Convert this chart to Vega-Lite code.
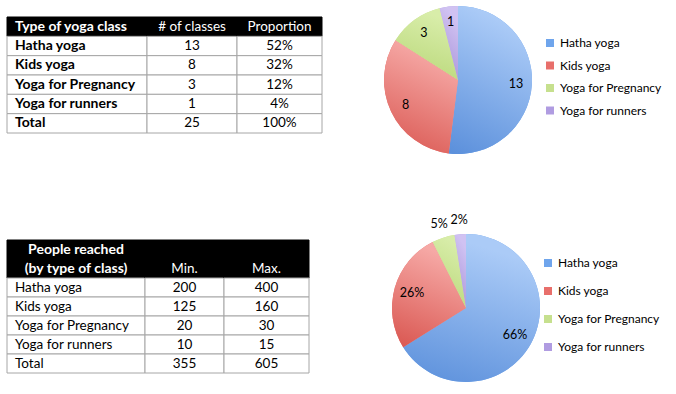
{
  "$schema": "https://vega.github.io/schema/vega-lite/v6.json",
  "background": "white",
  "padding": {"left": 6, "top": 0, "right": 0, "bottom": 0},
  "config": {"view": {"stroke": null}, "text": {"font": "Lato"}},
  "datasets": {
    "table1": [
      {"row": "head", "c1": "Type of yoga class", "c2": "# of classes", "c3": "Proportion"},
      {"row": "r1", "c1": "Hatha yoga", "c2": "13", "c3": "52%"},
      {"row": "r2", "c1": "Kids yoga", "c2": "8", "c3": "32%"},
      {"row": "r3", "c1": "Yoga for Pregnancy", "c2": "3", "c3": "12%"},
      {"row": "r4", "c1": "Yoga for runners", "c2": "1", "c3": "4%"},
      {"row": "total", "c1": "Total", "c2": "25", "c3": "100%"}
    ],
    "table2": [
      {"row": "head1", "c1": "People reached", "c2": "", "c3": ""},
      {"row": "head2", "c1": "(by type of class)", "c2": "Min.", "c3": "Max."},
      {"row": "r1", "c1": "Hatha yoga", "c2": "200", "c3": "400"},
      {"row": "r2", "c1": "Kids yoga", "c2": "125", "c3": "160"},
      {"row": "r3", "c1": "Yoga for Pregnancy", "c2": "20", "c3": "30"},
      {"row": "r4", "c1": "Yoga for runners", "c2": "10", "c3": "15"},
      {"row": "total", "c1": "Total", "c2": "355", "c3": "605"}
    ],
    "pie1": [
      {"type": "Hatha yoga", "v": 13},
      {"type": "Kids yoga", "v": 8},
      {"type": "Yoga for Pregnancy", "v": 3},
      {"type": "Yoga for runners", "v": 1}
    ],
    "pie2": [
      {"type": "Hatha yoga", "v": 400, "label": "66%"},
      {"type": "Kids yoga", "v": 160, "label": "26%"},
      {"type": "Yoga for Pregnancy", "v": 30, "label": "5%"},
      {"type": "Yoga for runners", "v": 15, "label": "2%"}
    ]
  },
  "vconcat": [
    {
      "hconcat": [
        {
          "hconcat": [
            {
              "width": 140, "height": 160,
              "data": {"name": "table1"},
              "encoding": {"y": {"field": "row", "type": "nominal", "axis": null, "scale": {"domain": ["head", "r1", "r2", "r3", "r4", "total"], "range": [17, 133], "paddingInner": 0, "paddingOuter": 0}}},
              "layer": [
                {"mark": {"type": "rect", "strokeWidth": 1}, "encoding": {
                  "fill": {"condition": {"test": "datum.row === 'head'", "value": "#000000"}, "value": "#ffffff"},
                  "stroke": {"condition": {"test": "datum.row === 'head'", "value": "#000000"}, "value": "#a6a6a6"}}},
                {"mark": {"type": "text", "align": "left", "dx": 8, "baseline": "middle", "font": "Lato", "fontSize": 14, "fontWeight": "bold"}, "encoding": {
                  "x": {"datum": 0, "type": "quantitative", "scale": {"domain": [0, 1]}, "axis": null},
                  "text": {"field": "c1", "type": "nominal"},
                  "color": {"condition": {"test": "datum.row === 'head'", "value": "#ffffff"}, "value": "#000000"}}}
              ]
            },
            {
              "width": 90, "height": 160,
              "data": {"name": "table1"},
              "encoding": {"y": {"field": "row", "type": "nominal", "axis": null, "scale": {"domain": ["head", "r1", "r2", "r3", "r4", "total"], "range": [17, 133], "paddingInner": 0, "paddingOuter": 0}}},
              "layer": [
                {"mark": {"type": "rect", "strokeWidth": 1}, "encoding": {
                  "fill": {"condition": {"test": "datum.row === 'head'", "value": "#000000"}, "value": "#ffffff"},
                  "stroke": {"condition": {"test": "datum.row === 'head'", "value": "#000000"}, "value": "#a6a6a6"}}},
                {"mark": {"type": "text", "baseline": "middle", "font": "Lato", "fontSize": 13.5}, "encoding": {
                  "text": {"field": "c2", "type": "nominal"},
                  "fontWeight": {"condition": {"test": "datum.row === 'head'", "value": "bold"}, "value": "normal"},
                  "color": {"condition": {"test": "datum.row === 'head'", "value": "#ffffff"}, "value": "#000000"}}}
              ]
            },
            {
              "width": 85, "height": 160,
              "data": {"name": "table1"},
              "encoding": {"y": {"field": "row", "type": "nominal", "axis": null, "scale": {"domain": ["head", "r1", "r2", "r3", "r4", "total"], "range": [17, 133], "paddingInner": 0, "paddingOuter": 0}}},
              "layer": [
                {"mark": {"type": "rect", "strokeWidth": 1}, "encoding": {
                  "fill": {"condition": {"test": "datum.row === 'head'", "value": "#000000"}, "value": "#ffffff"},
                  "stroke": {"condition": {"test": "datum.row === 'head'", "value": "#000000"}, "value": "#a6a6a6"}}},
                {"mark": {"type": "text", "baseline": "middle", "font": "Lato", "fontSize": 13.5}, "encoding": {
                  "text": {"field": "c3", "type": "nominal"},
                  "fontWeight": {"condition": {"test": "datum.row === 'head'", "value": "bold"}, "value": "normal"},
                  "color": {"condition": {"test": "datum.row === 'head'", "value": "#ffffff"}, "value": "#000000"}}}
              ]
            }
          ],
          "spacing": 0,
          "bounds": "flush"
        },
        {
          "width": 148, "height": 160,
          "data": {"name": "pie1"},
          "encoding": {
            "theta": {"field": "v", "type": "quantitative", "stack": true},
            "order": {"field": "type", "type": "ordinal", "sort": "ascending"}
          },
          "layer": [
            {"mark": {"type": "arc", "outerRadius": 74}, "encoding": {
              "color": {"field": "type", "type": "nominal",
                "scale": {"domain": ["Hatha yoga", "Kids yoga", "Yoga for Pregnancy", "Yoga for runners"], "range": ["#6fa5ec", "#e86f6b", "#c6e08e", "#b09ce1"]},
                "legend": {"orient": "none", "legendX": 160, "legendY": 37, "title": null, "padding": 0, "symbolType": "square", "symbolSize": 64, "symbolStrokeWidth": 0, "labelFont": "Lato", "labelFontSize": 12, "labelColor": "#000000", "rowPadding": 10.5, "labelOffset": 4}}}},
            {"mark": {"type": "arc", "outerRadius": 74}, "encoding": {
              "detail": {"field": "type", "type": "nominal"},
              "fill": {"condition": [
                {"test": "datum.type === 'Hatha yoga'", "value": {"gradient": "linear", "x1": 0.3, "y1": 0, "x2": 0, "y2": 1, "stops": [{"offset": 0, "color": "#abcbf7"}, {"offset": 1, "color": "#5a8fdb"}]}},
                {"test": "datum.type === 'Kids yoga'", "value": {"gradient": "linear", "x1": 0.3, "y1": 0, "x2": 0, "y2": 1, "stops": [{"offset": 0, "color": "#f6a9a6"}, {"offset": 1, "color": "#d9554f"}]}},
                {"test": "datum.type === 'Yoga for Pregnancy'", "value": {"gradient": "linear", "x1": 0.3, "y1": 0, "x2": 0, "y2": 1, "stops": [{"offset": 0, "color": "#d8eda9"}, {"offset": 1, "color": "#b7d676"}]}}
              ], "value": {"gradient": "linear", "x1": 0.3, "y1": 0, "x2": 0, "y2": 1, "stops": [{"offset": 0, "color": "#d0c2f2"}, {"offset": 1, "color": "#a48ed6"}]}}}},
            {"mark": {"type": "text", "radius": 58, "font": "Lato", "fontSize": 12.5, "color": "#000000"}, "encoding": {
              "detail": {"field": "type", "type": "nominal"},
              "text": {"field": "v", "type": "quantitative"}}}
          ]
        }
      ],
      "spacing": 61,
      "resolve": {"scale": {"color": "independent"}, "legend": {"color": "independent"}}
    },
    {
      "hconcat": [
        {
          "hconcat": [
            {
              "width": 138, "height": 150,
              "data": {"name": "table2"},
              "encoding": {"y": {"field": "row", "type": "nominal", "axis": null, "scale": {"domain": ["head1", "head2", "r1", "r2", "r3", "r4", "total"], "range": [7, 140], "paddingInner": 0, "paddingOuter": 0}}},
              "layer": [
                {"mark": {"type": "rect", "strokeWidth": 1}, "encoding": {
                  "fill": {"condition": {"test": "datum.row === 'head1' || datum.row === 'head2'", "value": "#000000"}, "value": "#ffffff"},
                  "stroke": {"condition": {"test": "datum.row === 'head1' || datum.row === 'head2'", "value": "#000000"}, "value": "#a6a6a6"}}},
                {"transform": [{"filter": "datum.row === 'head1' || datum.row === 'head2'"}],
                 "mark": {"type": "text", "baseline": "middle", "font": "Lato", "fontSize": 14, "fontWeight": "bold", "color": "#ffffff"}, "encoding": {
                  "text": {"field": "c1", "type": "nominal"}}},
                {"transform": [{"filter": "datum.row !== 'head1' && datum.row !== 'head2'"}],
                 "mark": {"type": "text", "align": "left", "dx": 8, "baseline": "middle", "font": "Lato", "fontSize": 13.5, "color": "#000000"}, "encoding": {
                  "x": {"datum": 0, "type": "quantitative", "scale": {"domain": [0, 1]}, "axis": null},
                  "text": {"field": "c1", "type": "nominal"}}}
              ]
            },
            {
              "width": 79, "height": 150,
              "data": {"name": "table2"},
              "encoding": {"y": {"field": "row", "type": "nominal", "axis": null, "scale": {"domain": ["head1", "head2", "r1", "r2", "r3", "r4", "total"], "range": [7, 140], "paddingInner": 0, "paddingOuter": 0}}},
              "layer": [
                {"mark": {"type": "rect", "strokeWidth": 1}, "encoding": {
                  "fill": {"condition": {"test": "datum.row === 'head1' || datum.row === 'head2'", "value": "#000000"}, "value": "#ffffff"},
                  "stroke": {"condition": {"test": "datum.row === 'head1' || datum.row === 'head2'", "value": "#000000"}, "value": "#a6a6a6"}}},
                {"mark": {"type": "text", "baseline": "middle", "font": "Lato", "fontSize": 13.5}, "encoding": {
                  "text": {"field": "c2", "type": "nominal"},
                  "fontWeight": {"condition": {"test": "datum.row === 'total'", "value": "bold"}, "value": "normal"},
                  "color": {"condition": {"test": "datum.row === 'head1' || datum.row === 'head2'", "value": "#ffffff"}, "value": "#000000"}}}
              ]
            },
            {
              "width": 85, "height": 150,
              "data": {"name": "table2"},
              "encoding": {"y": {"field": "row", "type": "nominal", "axis": null, "scale": {"domain": ["head1", "head2", "r1", "r2", "r3", "r4", "total"], "range": [7, 140], "paddingInner": 0, "paddingOuter": 0}}},
              "layer": [
                {"mark": {"type": "rect", "strokeWidth": 1}, "encoding": {
                  "fill": {"condition": {"test": "datum.row === 'head1' || datum.row === 'head2'", "value": "#000000"}, "value": "#ffffff"},
                  "stroke": {"condition": {"test": "datum.row === 'head1' || datum.row === 'head2'", "value": "#000000"}, "value": "#a6a6a6"}}},
                {"mark": {"type": "text", "baseline": "middle", "font": "Lato", "fontSize": 13.5}, "encoding": {
                  "text": {"field": "c3", "type": "nominal"},
                  "fontWeight": {"condition": {"test": "datum.row === 'total'", "value": "bold"}, "value": "normal"},
                  "color": {"condition": {"test": "datum.row === 'head1' || datum.row === 'head2'", "value": "#ffffff"}, "value": "#000000"}}}
              ]
            }
          ],
          "spacing": 0,
          "bounds": "flush"
        },
        {
          "width": 148, "height": 150,
          "data": {"name": "pie2"},
          "encoding": {
            "theta": {"field": "v", "type": "quantitative", "stack": true},
            "order": {"field": "type", "type": "ordinal", "sort": "ascending"}
          },
          "layer": [
            {"mark": {"type": "arc", "outerRadius": 74}, "encoding": {
              "color": {"field": "type", "type": "nominal",
                "scale": {"domain": ["Hatha yoga", "Kids yoga", "Yoga for Pregnancy", "Yoga for runners"], "range": ["#6fa5ec", "#e86f6b", "#c6e08e", "#b09ce1"]},
                "legend": {"orient": "none", "legendX": 150, "legendY": 24, "title": null, "padding": 0, "symbolType": "square", "symbolSize": 64, "symbolStrokeWidth": 0, "labelFont": "Lato", "labelFontSize": 12, "labelColor": "#000000", "rowPadding": 16, "labelOffset": 4}}}},
            {"mark": {"type": "arc", "outerRadius": 74}, "encoding": {
              "detail": {"field": "type", "type": "nominal"},
              "fill": {"condition": [
                {"test": "datum.type === 'Hatha yoga'", "value": {"gradient": "linear", "x1": 0.3, "y1": 0, "x2": 0, "y2": 1, "stops": [{"offset": 0, "color": "#abcbf7"}, {"offset": 1, "color": "#5a8fdb"}]}},
                {"test": "datum.type === 'Kids yoga'", "value": {"gradient": "linear", "x1": 0.3, "y1": 0, "x2": 0, "y2": 1, "stops": [{"offset": 0, "color": "#f6a9a6"}, {"offset": 1, "color": "#d9554f"}]}},
                {"test": "datum.type === 'Yoga for Pregnancy'", "value": {"gradient": "linear", "x1": 0.3, "y1": 0, "x2": 0, "y2": 1, "stops": [{"offset": 0, "color": "#d8eda9"}, {"offset": 1, "color": "#b7d676"}]}}
              ], "value": {"gradient": "linear", "x1": 0.3, "y1": 0, "x2": 0, "y2": 1, "stops": [{"offset": 0, "color": "#d0c2f2"}, {"offset": 1, "color": "#a48ed6"}]}}}},
            {"mark": {"type": "text", "radius": 56, "font": "Lato", "fontSize": 12.5, "color": "#000000"}, "encoding": {
              "detail": {"field": "type", "type": "nominal"},
              "text": {"field": "label", "type": "nominal", "condition": {"test": "datum.v < 100", "value": ""}}}},
            {"mark": {"type": "text", "radius": 88, "font": "Lato", "fontSize": 12.5, "color": "#000000"}, "encoding": {
              "detail": {"field": "type", "type": "nominal"},
              "text": {"field": "label", "type": "nominal", "condition": {"test": "datum.v >= 100", "value": ""}}}}
          ]
        }
      ],
      "spacing": 71,
      "resolve": {"scale": {"color": "independent"}, "legend": {"color": "independent"}}
    }
  ],
  "spacing": 54,
  "resolve": {"scale": {"color": "independent"}, "legend": {"color": "independent"}}
}
